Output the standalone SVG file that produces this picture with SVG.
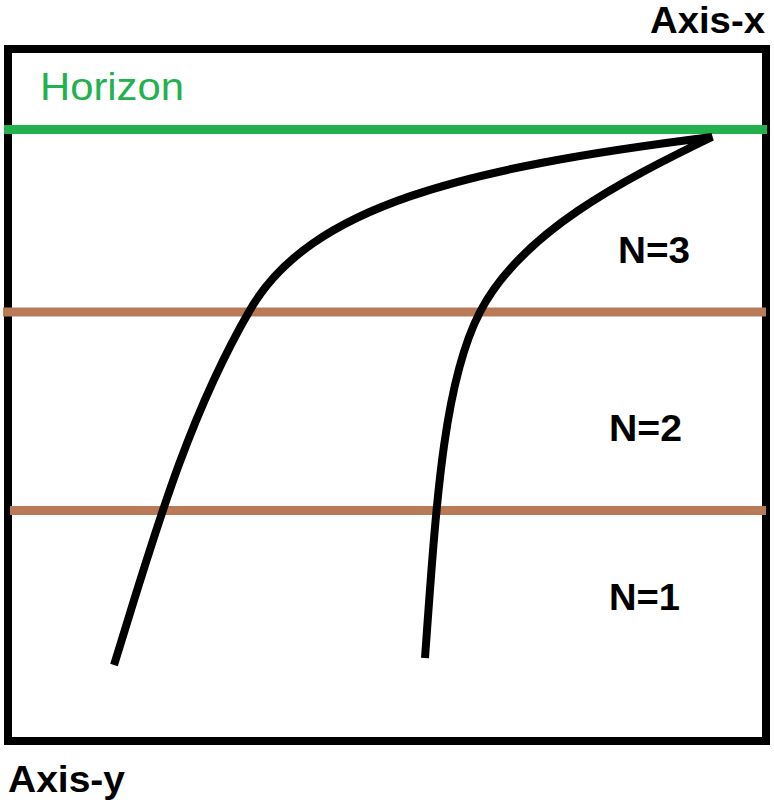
<svg xmlns="http://www.w3.org/2000/svg" width="774" height="805" viewBox="0 0 774 805">
<style>
.lbl{font-family:"Liberation Sans",Arial,sans-serif;font-weight:bold;fill:#000}
.hz{font-family:"Liberation Sans",Arial,sans-serif;fill:#22b14c}
.curve{fill:none;stroke:#000;stroke-width:8;stroke-linecap:butt;stroke-linejoin:bevel}
.band{stroke:#b97a57;stroke-width:9}
</style>
<rect width="774" height="805" fill="#fff"/>
<g id="frame">
<rect x="8" y="49" width="758" height="692" fill="none" stroke="#000" stroke-width="8"/>
</g>
<g id="horizon">
<line x1="4" y1="129.5" x2="767" y2="129.5" stroke="#22b14c" stroke-width="9"/>
<text class="hz" x="40" y="100" font-size="38" textLength="144" lengthAdjust="spacingAndGlyphs">Horizon</text>
</g>
<g id="levels">
<line class="band" x1="3" y1="312" x2="766" y2="312"/>
<line class="band" x1="10" y1="510.5" x2="766" y2="510.5"/>
</g>
<g id="curves">
<path class="curve" d="M114,665 C152,543 186,420 250,310 C310,206 464,168 712,137 C622,180.6 521.4,232.2 480,312 C443,383 436,507 425,658"/>
</g>
<g id="labels">
<text class="lbl" x="650" y="33" font-size="36" textLength="115" lengthAdjust="spacingAndGlyphs">Axis-x</text>
<text class="lbl" x="8" y="792" font-size="37" textLength="117" lengthAdjust="spacingAndGlyphs">Axis-y</text>
<text class="lbl" x="618" y="263" font-size="36" textLength="72" lengthAdjust="spacingAndGlyphs">N=3</text>
<text class="lbl" x="609" y="441" font-size="36" textLength="73" lengthAdjust="spacingAndGlyphs">N=2</text>
<text class="lbl" x="609" y="610" font-size="36" textLength="71" lengthAdjust="spacingAndGlyphs">N=1</text>
</g>
</svg>
